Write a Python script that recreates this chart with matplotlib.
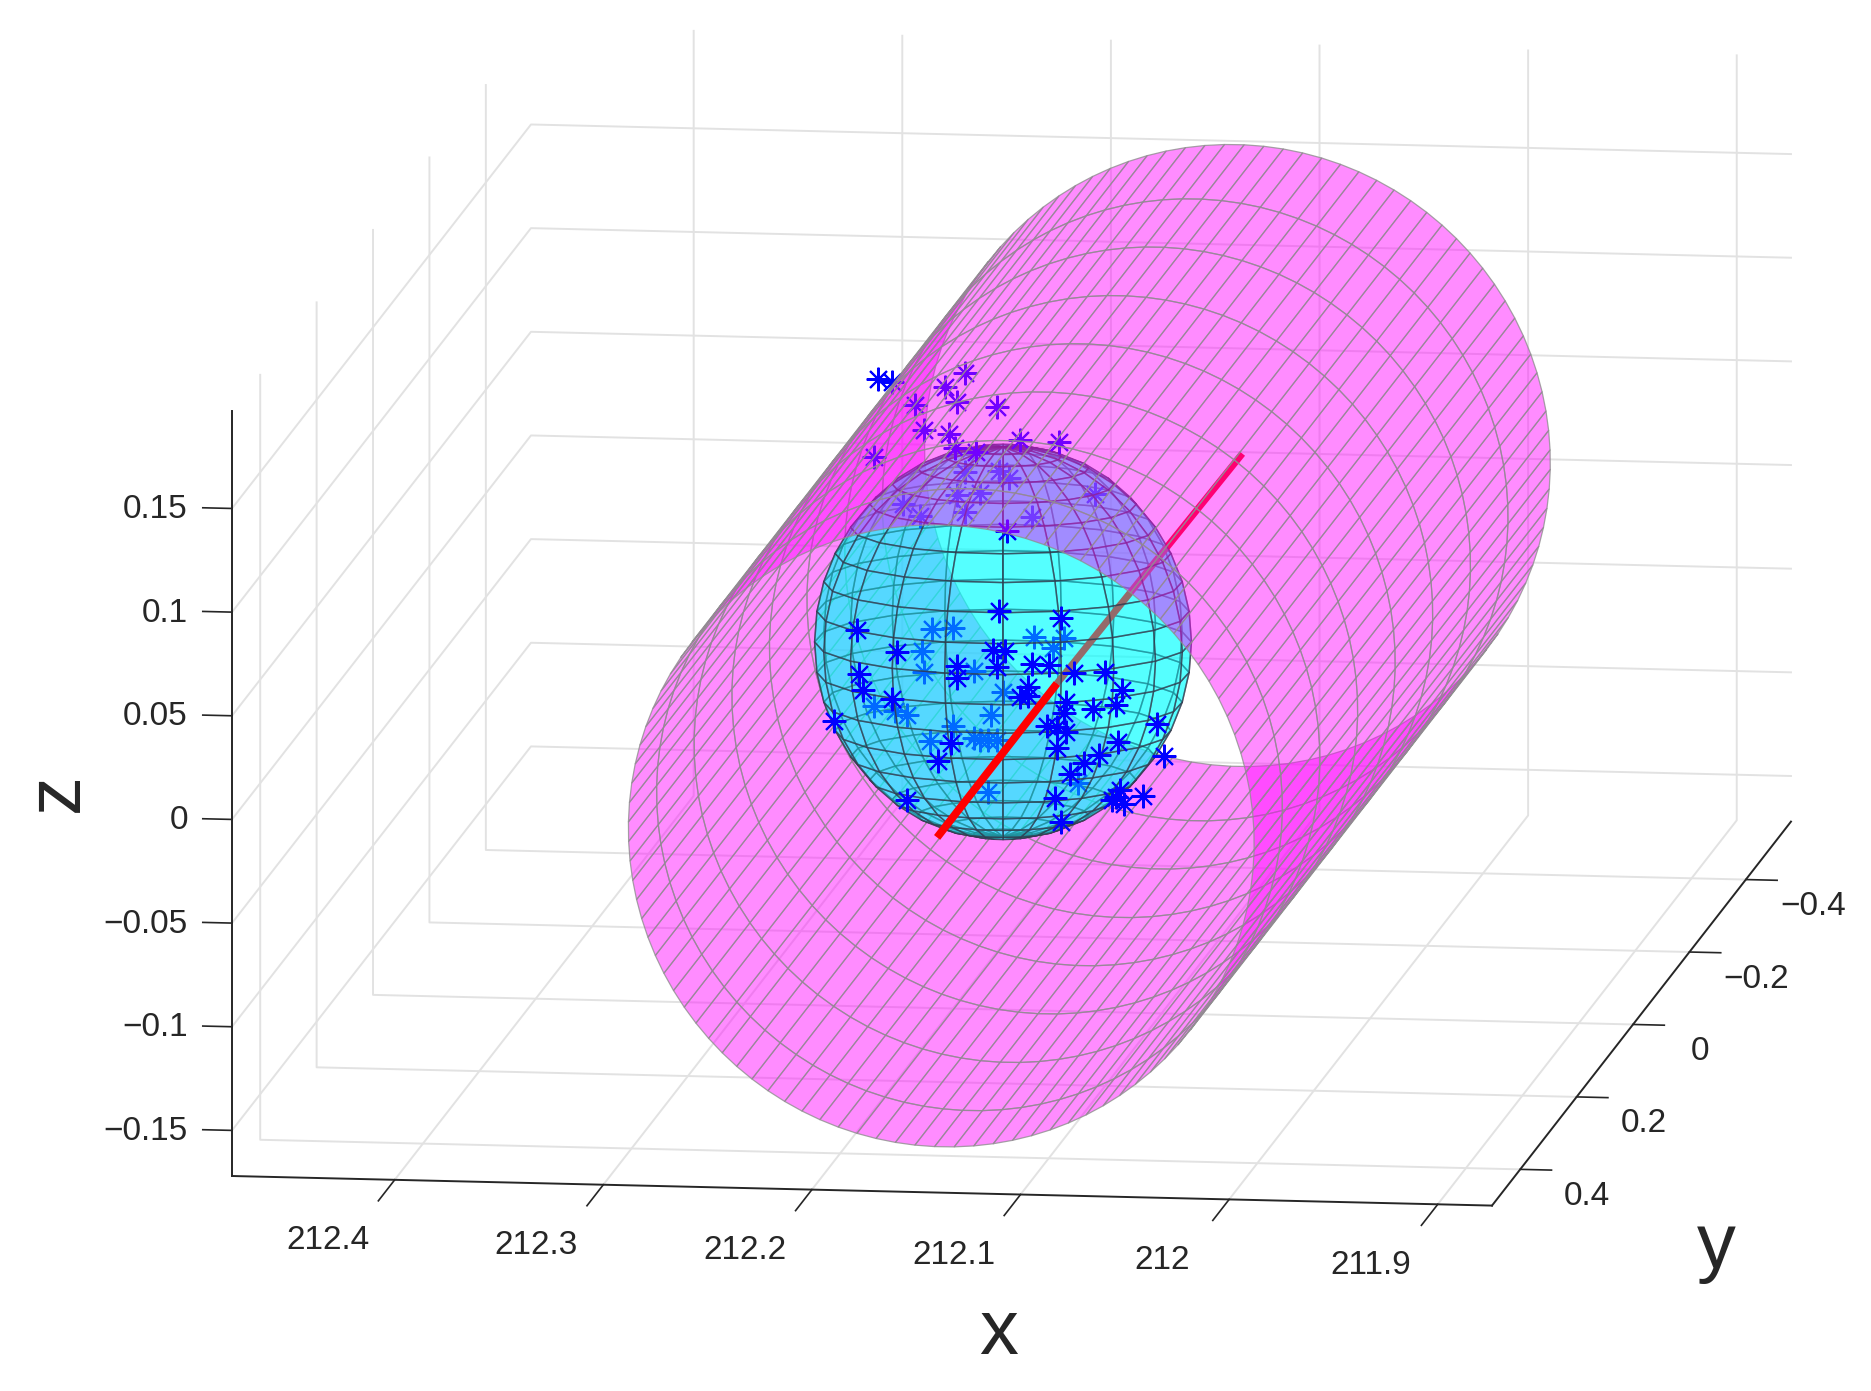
#!/usr/bin/env python

import numpy as np
import matplotlib as mpl
mpl.use('Agg')
import matplotlib.pyplot as plt
from mpl_toolkits.mplot3d import proj3d
from mpl_toolkits.mplot3d.art3d import Poly3DCollection

plt.rcParams['font.family'] = ['Liberation Sans', 'DejaVu Sans']

elev, azim = 10, 97.7

xlim = (211.874, 212.478)
ylim = (-0.56, 0.5)
zlim = (-0.172, 0.197)

xticks = [211.9, 212, 212.1, 212.2, 212.3, 212.4]
xticklabels = ['211.9', '212', '212.1', '212.2', '212.3', '212.4']
yticks = [-0.4, -0.2, 0, 0.2, 0.4]
yticklabels = ['\u22120.4', '\u22120.2', '0', '0.2', '0.4']
zticks = [-0.15, -0.1, -0.05, 0, 0.05, 0.1, 0.15]
zticklabels = ['\u22120.15', '\u22120.1', '\u22120.05', '0', '0.05', '0.1', '0.15']

# tube: axis along y
tube_x, tube_z, tube_r = 212.138, 0.0001, 0.15
tube_rings = [0.5, 0.4, 0.267, 0.133, 0, -0.133, -0.267, -0.4, -0.55]
tube_faces = 100

# ellipsoid
ball_x, ball_y, ball_z = 212.176, 0, 0.0054
ball_rx, ball_rz = 0.0895, 0.094
ball_faces = 20
ball_turn = 7.7

# red line
line_x = [212.14, 212.14, 212.137]
line_y = [0.5, 0.075, -0.56]
line_z = [-0.0007, -0.0007, -0.0007]

# stars inside the ball
inner_x = [212.210, 212.200, 212.161, 212.147, 212.152, 212.215, 212.190, 212.214,
           212.176, 212.238, 212.228, 212.222, 212.182, 212.200, 212.211, 212.187,
           212.183, 212.179, 212.190, 212.183, 212.224, 212.216, 212.198, 212.187,
           212.194, 212.162, 212.132, 212.194, 212.178, 212.173, 212.140]
inner_z = [0.0106, 0.0116, 0.0082, 0.0079, 0.0030, 0.0001, -0.0088, -0.0102,
           -0.0188, -0.0268, -0.0292, -0.0309, -0.0301, -0.0357, -0.0430, -0.0422,
           -0.0422, -0.0422, -0.0413, -0.0672, 0.0708, 0.0651, 0.0756, 0.0772,
           0.0675, 0.0659, 0.0780, 0.0869, 0.0877, 0.0845, -0.0620]
# stars in front of it
outer_x = [212.236, 212.229, 212.194, 212.204, 212.198, 212.179, 212.218, 212.214,
           212.202, 212.238, 212.199, 212.189, 212.168, 212.149, 212.174, 212.178,
           212.148, 212.246, 212.181, 212.175, 212.227, 212.179, 212.198, 212.162,
           212.154, 212.245, 212.127, 212.142, 212.198, 212.119, 212.164, 212.243,
           212.168, 212.164, 212.146, 212.229, 212.133, 212.122, 212.257, 212.147,
           212.102, 212.155, 212.150, 212.146, 212.121, 212.201, 212.150, 212.130,
           212.137, 212.099, 212.207, 212.144, 212.120, 212.122, 212.118, 212.124,
           212.109, 212.222, 212.151, 212.148]
outer_z = [0.1308, 0.1296, 0.1345, 0.1275, 0.1208, 0.1187, 0.1187, 0.1067,
           0.1051, 0.0930, 0.0982, 0.0966, 0.1030, 0.1027, 0.0590, 0.0203,
           0.0175, 0.0095, 0.0014, 0.0009, -0.0007, -0.0067, -0.0067, -0.0051,
           -0.0051, -0.0115, -0.0078, -0.0088, -0.0123, -0.0163, -0.0163, -0.0196,
           -0.0212, -0.0204, -0.0228, -0.0236, -0.0260, -0.0239, -0.0349, -0.0284,
           -0.0325, -0.0349, -0.0349, -0.0373, -0.0417, -0.0438, -0.0454, -0.0481,
           -0.0523, -0.0478, -0.0526, -0.0575, -0.0647, -0.0680, -0.0712, -0.0696,
           -0.0672, -0.0720, -0.0691, -0.0809]

W, H = 1871, 1391
fig = plt.figure(figsize=(W / 100, H / 100), dpi=100, facecolor='w')
side = 2400
ax = fig.add_axes([(W - side) / 2 / W, (H - side) / 2 / H, side / W, side / H],
                  projection='3d', proj_type='ortho', computed_zorder=False)
ax.view_init(elev=elev, azim=azim)
ax.set_axis_off()

dark = (0.15, 0.15, 0.15)
pale = '#e2e2e2'
e, a = np.radians(elev), np.radians(azim)
view = np.array([np.cos(e) * np.cos(a), np.cos(e) * np.sin(a), np.sin(e)])

# grid on the three far walls
for x in xticks:
    ax.plot([x, x, x], [ylim[1], ylim[0], ylim[0]], [zlim[0], zlim[0], zlim[1]],
            color=pale, lw=1.4, zorder=0)
for y in yticks:
    ax.plot([xlim[0], xlim[1], xlim[1]], [y, y, y], [zlim[0], zlim[0], zlim[1]],
            color=pale, lw=1.4, zorder=0)
for z in zticks:
    ax.plot([xlim[1], xlim[1], xlim[0]], [ylim[1], ylim[0], ylim[0]], [z, z, z],
            color=pale, lw=1.4, zorder=0)

# box lines and ticks
ax.plot([xlim[1], xlim[1]], [ylim[1], ylim[1]], zlim, color=dark, lw=1.4, zorder=1)
ax.plot(xlim, [ylim[1], ylim[1]], [zlim[0], zlim[0]], color=dark, lw=1.4, zorder=1)
ax.plot([xlim[0], xlim[0]], ylim, [zlim[0], zlim[0]], color=dark, lw=1.4, zorder=1)
for x in xticks:
    ax.plot([x, x], [ylim[1], ylim[1] + 0.058], [zlim[0], zlim[0]], color=dark, lw=1.2, zorder=1)
for y in yticks:
    ax.plot([xlim[0], xlim[0] - 0.015], [y, y], [zlim[0], zlim[0]], color=dark, lw=1.2, zorder=1)
for z in zticks:
    ax.plot([xlim[1], xlim[1] + 0.014], [ylim[1], ylim[1]], [z, z], color=dark, lw=1.2, zorder=1)

# tube, split along the silhouette into the far wall and the near wall
start = np.arctan2(view[2], view[0]) - np.pi / 2
theta = start + 2 * np.pi * np.arange(tube_faces + 1) / tube_faces
half = tube_faces // 2
for part, order in ((theta[half:], 2), (theta[:half + 1], 8)):
    th, yy = np.meshgrid(part, tube_rings)
    ax.plot_surface(tube_x + tube_r * np.cos(th), yy, tube_z + tube_r * np.sin(th),
                    rstride=1, cstride=1, color=(1, 0, 1, 0.45), shade=False,
                    edgecolor=(0.56, 0.56, 0.56, 0.8), linewidth=0.9, zorder=order)

# ball, split into back and front faces so things can sit inside it
lon = np.linspace(-np.pi, np.pi, ball_faces + 1) + np.radians(ball_turn)
lat = np.linspace(-np.pi / 2, np.pi / 2, ball_faces + 1)
bx = ball_x + ball_rx * np.outer(np.cos(lat), np.cos(lon))
by = ball_y + ball_rx * np.outer(np.cos(lat), np.sin(lon))
bz = ball_z + ball_rz * np.outer(np.sin(lat), np.ones_like(lon))
back, front = [], []
for i in range(ball_faces):
    for j in range(ball_faces):
        ii = [i, i, i + 1, i + 1]
        jj = [j, j + 1, j + 1, j]
        quad = np.column_stack([bx[ii, jj], by[ii, jj], bz[ii, jj]])
        centre = quad.mean(axis=0) - [ball_x, ball_y, ball_z]
        if np.dot(centre, view) > 0:
            front.append(quad)
        else:
            back.append(quad)
for quads, order in ((back, 3), (front, 5)):
    ax.add_collection3d(Poly3DCollection(quads, facecolors=(0, 1, 1, 0.42),
                                         edgecolors=(0.2, 0.2, 0.28, 0.62),
                                         linewidths=1.1, zorder=order))

# red line, first part in front of the ball
ax.plot(line_x[:2], line_y[:2], line_z[:2], color='r', lw=5.6, solid_capstyle='butt', zorder=7)
ax.plot(line_x[1:], line_y[1:], line_z[1:], color='r', lw=5.0, solid_capstyle='butt', zorder=4)

star = dict(ls='', marker=(8, 2, 0), ms=17, mew=1.5, color='b')
ax.plot(inner_x, np.zeros(len(inner_x)), inner_z, zorder=4, **star)
ax.plot(outer_x, np.zeros(len(outer_x)), outer_z, zorder=6, **star)

fig.text(999 / W, 1 - 1334 / H, 'x', fontsize=56, ha='center', va='center', color=dark)
fig.text(1716 / W, 1 - 1247 / H, 'y', fontsize=56, ha='center', va='center', color=dark)
fig.text(57 / W, 1 - 793 / H, 'z', fontsize=56, ha='center', va='center', rotation=90, color=dark)

ax.set_xlim(*xlim, view_margin=0)
ax.set_ylim(*ylim, view_margin=0)
ax.set_zlim(*zlim, view_margin=0)
spans = (xlim[1] - xlim[0], ylim[1] - ylim[0], zlim[1] - zlim[0])


def to_px(x, y, z):
    xp, yp, _ = proj3d.proj_transform(x, y, z, ax.get_proj())
    return ax.transData.transform((xp, yp))


# fit the box on the canvas: x axis runs from (232, 1176) to (1492, 1207) px
ax.set_box_aspect(spans, zoom=1)
fig.canvas.draw()
left = to_px(xlim[1], ylim[1], zlim[0])
right = to_px(xlim[0], ylim[1], zlim[0])
ax.set_box_aspect(spans, zoom=1260 / (right[0] - left[0]))
fig.canvas.draw()
left = to_px(xlim[1], ylim[1], zlim[0])
pos = ax.get_position(original=True)
ax.set_position([pos.x0 + (232 - left[0]) / W, pos.y0 + (H - 1176 - left[1]) / H,
                 pos.width, pos.height])
fig.canvas.draw()


# tick labels sit at the projected place of each tick, plus a pixel offset
def tick_label(x, y, z, lab, dx, dy, ha):
    px, py = to_px(x, y, z)
    fig.text((px + dx) / W, (py - dy) / H, lab, fontsize=24, ha=ha, va='center', color=dark)


for x, lab in zip(xticks, xticklabels):
    tick_label(x, ylim[1], zlim[0], lab, -67, 61, 'center')
for y, lab in zip(yticks, yticklabels):
    tick_label(xlim[0], y, zlim[0], lab, 67, 27, 'center')
for z, lab in zip(zticks, zticklabels):
    tick_label(xlim[1], ylim[1], z, lab, -44, 1, 'right')

fig.savefig('out.png', dpi=100)
